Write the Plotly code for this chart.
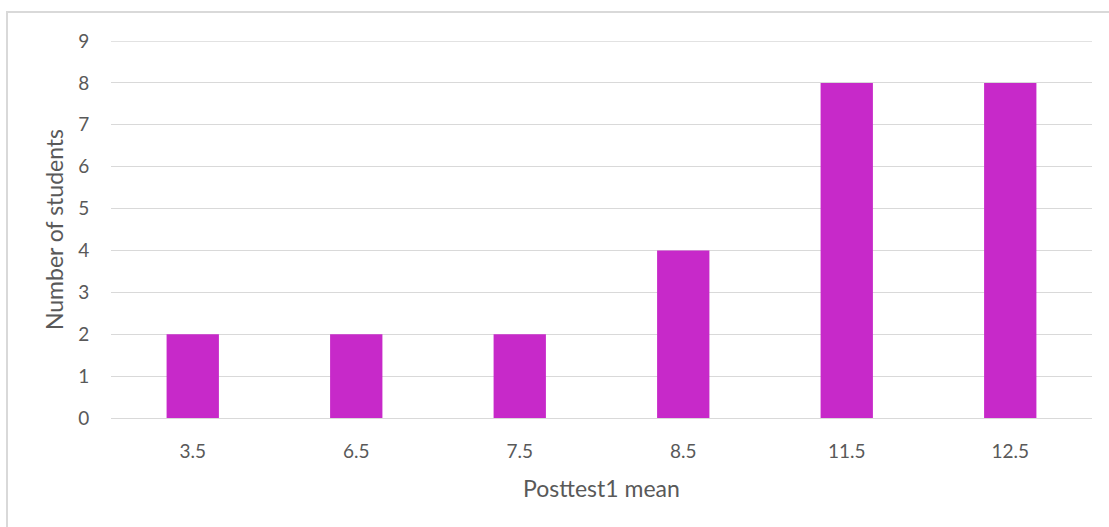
import plotly.graph_objects as go

# Histogram of posttest scores
score_bins = ["3.5", "6.5", "7.5", "8.5", "11.5", "12.5"]
student_counts = [2, 2, 2, 4, 8, 8]
y_max = 9

W, H = 1109, 527
ML, MR, MT, MB = 111, 17, 41, 109
pw, ph = W - ML - MR, H - MT - MB

FONT = "Lato, Open Sans, Liberation Sans, sans-serif"
GREY = "#595959"
GRID = "#D9D9D9"

fig = go.Figure(
    go.Bar(
        x=score_bins,
        y=student_counts,
        marker=dict(color="#C729C9", line=dict(width=0)),
        hoverinfo="x+y",
    )
)

tick_font = dict(family=FONT, size=19, color=GREY)

fig.update_layout(
    width=W,
    height=H,
    margin=dict(l=ML, r=MR, t=MT, b=MB),
    paper_bgcolor="white",
    plot_bgcolor="white",
    bargap=0.68,
    showlegend=False,
    xaxis=dict(
        type="category",
        tickfont=tick_font,
        ticks="outside",
        ticklen=16,
        tickcolor="rgba(0,0,0,0)",
        showline=False,
        showgrid=False,
        title=dict(
            text="Posttest1 mean",
            font=dict(family=FONT, size=23, color=GREY),
            standoff=20,
        ),
    ),
    yaxis=dict(
        range=[0, y_max],
        tickvals=list(range(y_max + 1)),
        tickfont=tick_font,
        ticks="outside",
        ticklen=17,
        tickcolor="rgba(0,0,0,0)",
        showgrid=True,
        gridcolor=GRID,
        gridwidth=1,
        zeroline=True,
        zerolinecolor=GRID,
        zerolinewidth=1,
        title=dict(
            text="Number of students",
            font=dict(family=FONT, size=23, color=GREY),
            standoff=8,
        ),
    ),
)

# Top gridline sits on the plot edge, so draw it explicitly
fig.add_shape(
    type="line",
    xref="paper",
    yref="y",
    x0=0,
    x1=1,
    y0=y_max,
    y1=y_max,
    line=dict(color=GRID, width=1.5),
    layer="below",
)

# Light frame around the chart area (pixel positions converted to paper units)
def px_x(px):
    return (px - ML) / pw

def px_y(py):
    return (H - MB - py) / ph

fig.add_shape(
    type="rect",
    xref="paper",
    yref="paper",
    x0=px_x(7),
    x1=px_x(W + 5),
    y0=px_y(H + 5),
    y1=px_y(12),
    line=dict(color=GRID, width=2),
    fillcolor="rgba(0,0,0,0)",
    layer="below",
)

fig.write_html("out.html")
